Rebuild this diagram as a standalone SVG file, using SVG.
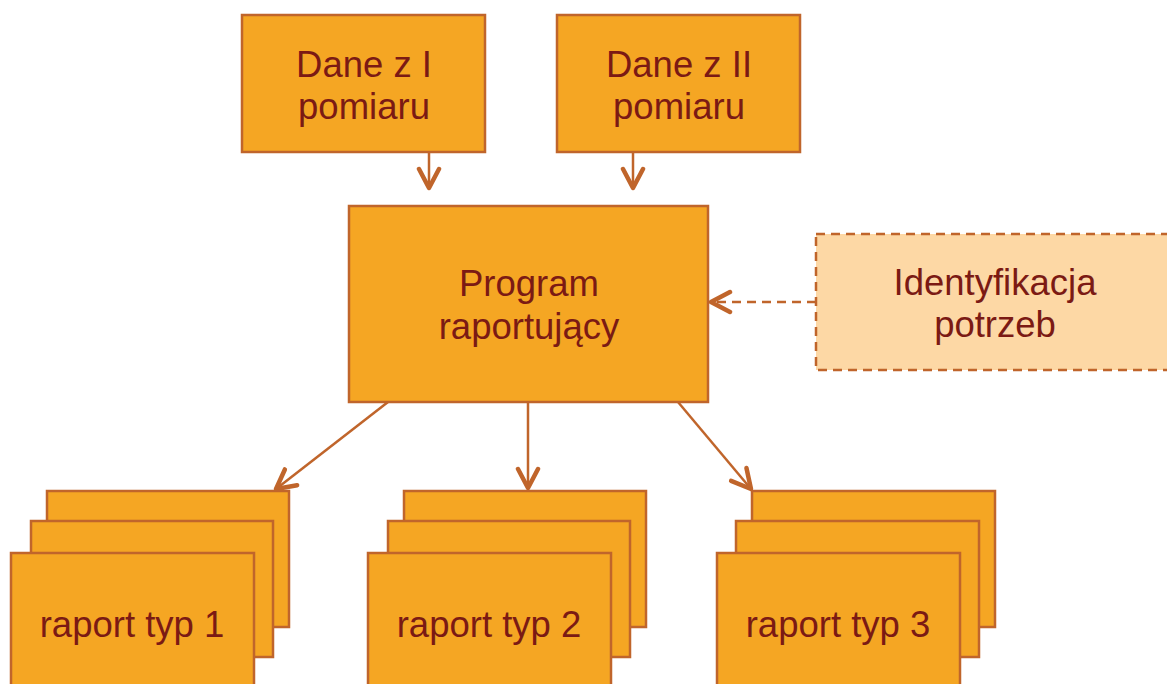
<svg xmlns="http://www.w3.org/2000/svg" width="1167" height="684" viewBox="0 0 1167 684">
<defs>
<style>
.box{fill:#F5A623;stroke:#C0652B;stroke-width:2.5}
.dash{fill:#FDD8A5;stroke:#C0652B;stroke-width:2.5;stroke-dasharray:9 6}
.t{font-family:"Liberation Sans",Arial,sans-serif;font-size:36.5px;fill:#7B1A14;text-anchor:middle}
.c{stroke:#C0652B;stroke-width:2.5;fill:none}
.cd{stroke:#C0652B;stroke-width:2.5;fill:none;stroke-dasharray:9 6}
</style>
<marker id="ah" viewBox="-22 -13 25 26" markerWidth="25" markerHeight="26" refX="0" refY="0" orient="auto" markerUnits="userSpaceOnUse">
<path d="M-19,-10 L0,0 L-19,10" fill="none" stroke="#C0652B" stroke-width="4.5" stroke-linecap="round" stroke-linejoin="round"/>
</marker>
</defs>
<rect width="1167" height="684" fill="#FFFFFF"/>
<g id="connectors">
<line class="c" x1="429" y1="152" x2="429" y2="188" marker-end="url(#ah)"/>
<line class="c" x1="633" y1="152" x2="633" y2="188" marker-end="url(#ah)"/>
<line class="cd" x1="816" y1="302" x2="711" y2="302" marker-end="url(#ah)"/>
<line class="c" x1="388" y1="402" x2="276" y2="489" marker-end="url(#ah)"/>
<line class="c" x1="528" y1="402" x2="528" y2="488" marker-end="url(#ah)"/>
<line class="c" x1="678" y1="402" x2="751" y2="489" marker-end="url(#ah)"/>
</g>
<g id="dane1">
<rect class="box" x="242" y="15" width="243" height="137"/>
<text class="t" x="364" y="77">Dane z I</text>
<text class="t" x="364" y="119">pomiaru</text>
</g>
<g id="dane2">
<rect class="box" x="557" y="15" width="243" height="137"/>
<text class="t" x="679" y="77">Dane z II</text>
<text class="t" x="679" y="119">pomiaru</text>
</g>
<g id="program">
<rect class="box" x="349" y="206" width="359" height="196"/>
<text class="t" x="529" y="296">Program</text>
<text class="t" x="529" y="339">raportujący</text>
</g>
<g id="identyfikacja">
<rect class="dash" x="816" y="234" width="365" height="136"/>
<text class="t" x="995" y="295">Identyfikacja</text>
<text class="t" x="995" y="337">potrzeb</text>
</g>
<g id="raport1">
<rect class="box" x="47" y="491" width="242" height="136"/>
<rect class="box" x="31" y="521" width="242" height="136"/>
<rect class="box" x="11" y="553" width="243" height="140"/>
<text class="t" x="132" y="637">raport typ 1</text>
</g>
<g id="raport2">
<rect class="box" x="404" y="491" width="242" height="136"/>
<rect class="box" x="388" y="521" width="242" height="136"/>
<rect class="box" x="368" y="553" width="243" height="140"/>
<text class="t" x="489" y="637">raport typ 2</text>
</g>
<g id="raport3">
<rect class="box" x="752" y="491" width="243" height="136"/>
<rect class="box" x="736" y="521" width="243" height="136"/>
<rect class="box" x="717" y="553" width="243" height="140"/>
<text class="t" x="838" y="637">raport typ 3</text>
</g>
</svg>
